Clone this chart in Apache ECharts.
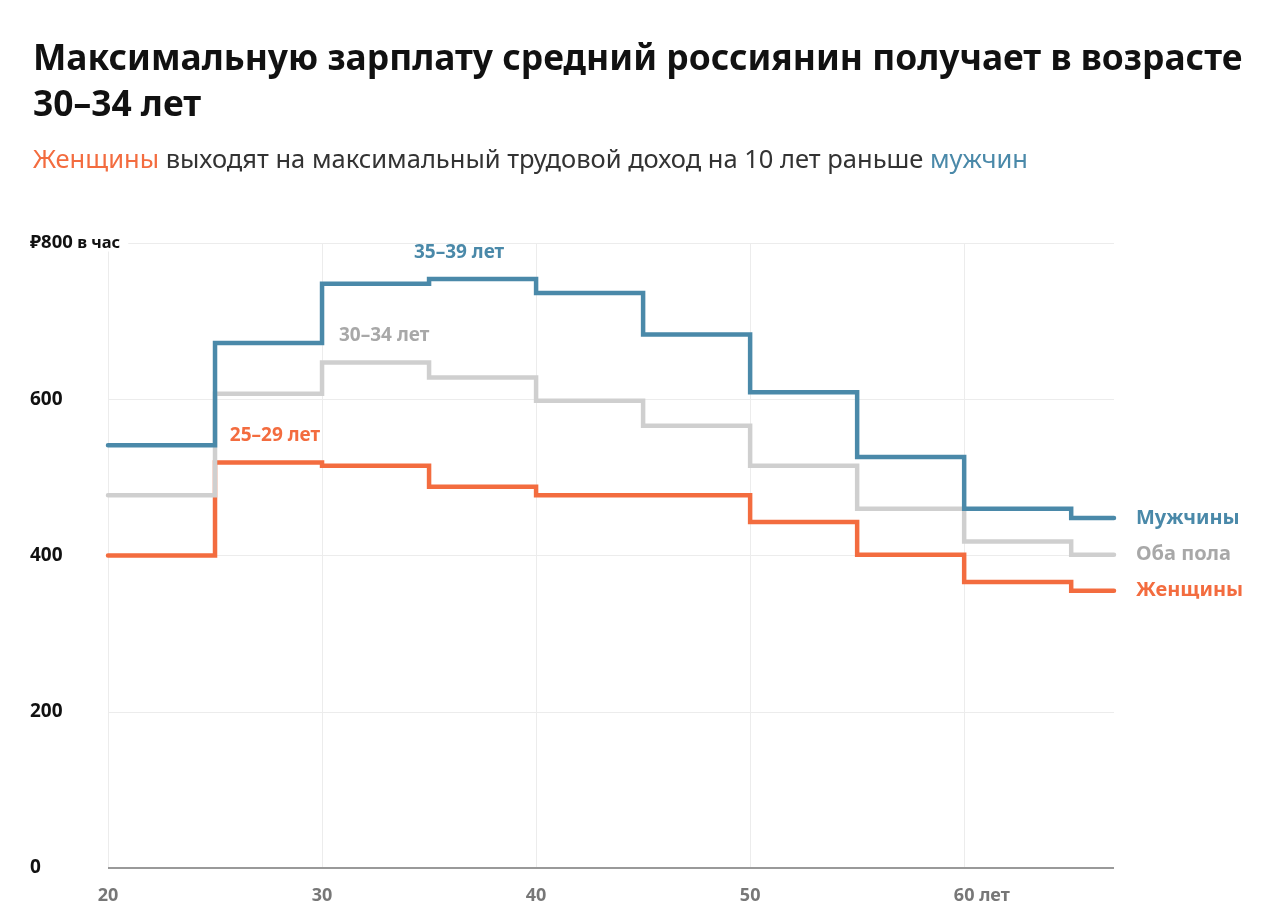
<!DOCTYPE html>
<html>
<head>
<meta charset="utf-8">
<script src="https://cdn.jsdelivr.net/npm/echarts@6/dist/echarts.min.js"></script>
<style>
  html, body { margin: 0; background: #fff; }
  #chart { width: 1280px; height: 924px; }
</style>
</head>
<body>
<div id="chart"></div>
<script>
// возраст начала каждой ступеньки (5-летние группы) и конец оси
var ageStarts = [20, 25, 30, 35, 40, 45, 50, 55, 60, 65];
var ageEnd = 67;
// ₽ в час
var men   = [541, 672, 748, 754, 736, 683, 609, 526, 460, 448];
var both  = [477, 607, 647, 628, 598, 566, 515, 460, 418, 401];
var women = [400, 519, 515, 488, 477, 477, 443, 401, 366, 355];
var seriesNames = ['Мужчины', 'Оба пола', 'Женщины'];
var xTicks = [20, 30, 40, 50, 60];
var yTicks = [0, 200, 400, 600, 800];
// подписи пиков: текст и возраст, над которым стоит подпись
var peakText = ['35–39 лет', '30–34 лет', '25–29 лет'];
var peakAge = [36.4, 32.9, 27.8];
var peakIdx = [3, 2, 1];

var BLUE = '#4a89a9', GRAY = '#cfcfcf', GRAY_TXT = '#a8a8a8', ORANGE = '#f36c3f';

function steps(vals) {
  var pts = ageStarts.map(function (a, i) { return [a, vals[i]]; });
  pts.push([ageEnd, vals[vals.length - 1]]);
  return pts;
}

function stepSeries(name, vals, color, txtColor, k) {
  return {
    name: name,
    type: 'line',
    step: 'end',
    data: steps(vals),
    symbol: 'none',
    lineStyle: { color: color, width: 4.5, cap: 'round', join: 'miter' },
    endLabel: {
      show: true,
      formatter: name,
      color: txtColor,
      fontFamily: 'Noto Sans',
      fontWeight: 'bold',
      fontSize: 20,
      distance: 22
    },
    markPoint: {
      symbol: 'circle',
      symbolSize: 0,
      silent: true,
      data: [{
        coord: [peakAge[k], vals[peakIdx[k]]],
        label: {
          show: true,
          formatter: peakText[k],
          position: 'top',
          distance: 17,
          color: txtColor,
          fontFamily: 'Noto Sans',
          fontWeight: 'bold',
          fontSize: 19
        }
      }]
    },
    z: 3 - k
  };
}

var chart = echarts.init(document.getElementById('chart'));
chart.setOption({
  animation: false,
  backgroundColor: '#fff',
  title: [{
    text: 'Максимальную зарплату средний россиянин получает в возрасте\n30–34 лет',
    left: 28,
    top: 32,
    textStyle: {
      fontFamily: 'Noto Sans',
      fontWeight: 'bold',
      fontSize: 35.4,
      lineHeight: 46,
      color: '#111'
    }
  }, {
    text: '{o|Женщины} выходят на максимальный трудовой доход на 10 лет раньше {b|мужчин}',
    left: 28,
    top: 143,
    textStyle: {
      fontFamily: 'Noto Sans',
      fontWeight: 'normal',
      fontSize: 25.5,
      color: '#333',
      rich: {
        o: { fontFamily: 'Noto Sans', fontSize: 25.5, color: ORANGE },
        b: { fontFamily: 'Noto Sans', fontSize: 25.5, color: BLUE }
      }
    }
  }],
  grid: { left: 108, right: 166, top: 243, bottom: 56, containLabel: false },
  xAxis: {
    type: 'value',
    min: 20,
    max: ageEnd,
    interval: 10,
    axisLine: { show: false },
    axisTick: { show: false, customValues: xTicks },
    splitLine: { show: true, lineStyle: { color: '#ececec', width: 1 } },
    axisLabel: {
      customValues: xTicks,
      margin: 19,
      color: '#777',
      fontFamily: 'Noto Sans',
      fontWeight: 'bold',
      fontSize: 18,
      formatter: function (v) {
        return v === 60 ? '{h|лет }60 лет' : String(v);
      },
      rich: { h: { color: 'transparent', fontFamily: 'Noto Sans', fontWeight: 'bold', fontSize: 18 } }
    }
  },
  yAxis: {
    type: 'value',
    min: 0,
    max: 800,
    interval: 200,
    axisLine: { show: false },
    axisTick: { show: false },
    splitLine: { show: true, lineStyle: { color: '#ececec', width: 1 } },
    axisLabel: {
      align: 'left',
      margin: 78,
      color: '#111',
      fontFamily: 'Noto Sans',
      fontWeight: 'bold',
      fontSize: 19,
      formatter: function (v) {
        return v === 800 ? '{c|₽800}{u| в час}' : String(v);
      },
      rich: {
        c: { fontFamily: 'Noto Sans', fontWeight: 'bold', fontSize: 18.5, color: '#111', backgroundColor: '#fff' },
        u: { fontFamily: 'Noto Sans', fontWeight: 'bold', fontSize: 16.5, color: '#111', backgroundColor: '#fff', padding: [0, 8, 0, 0] }
      }
    }
  },
  series: [
    stepSeries(seriesNames[0], men, BLUE, BLUE, 0),
    stepSeries(seriesNames[1], both, GRAY, GRAY_TXT, 1),
    stepSeries(seriesNames[2], women, ORANGE, ORANGE, 2),
    {
      // ось X: линия на нуле
      type: 'line',
      data: [[20, 0], [ageEnd, 0]],
      symbol: 'none',
      silent: true,
      lineStyle: { color: '#999', width: 2 },
      z: 1
    }
  ]
});
</script>
</body>
</html>
